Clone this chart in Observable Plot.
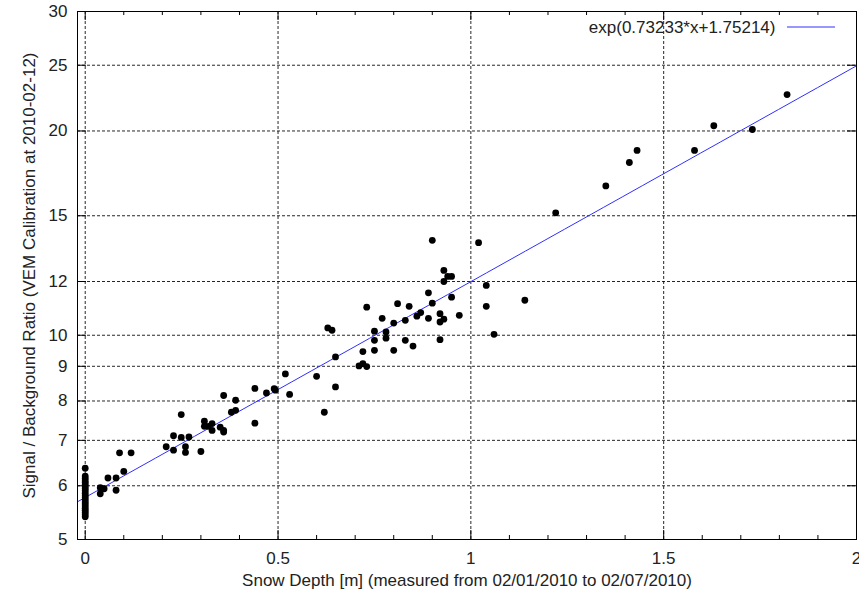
<!DOCTYPE html>
<html>
<head>
<meta charset="utf-8">
<script src="https://cdn.jsdelivr.net/npm/d3@7"></script>
<script src="https://cdn.jsdelivr.net/npm/@observablehq/plot@0.6"></script>
<style>
  html, body { margin: 0; padding: 0; background: #fff; }
  #chart svg { display: block; }
</style>
</head>
<body>
<div id="chart"></div>
<script>
// ---- data ----
const snowDepth = [
  0,0,0,0,0,0,0,0,0,0,0,0,0,0,0,0,0,0,0,0,0,
  0.039,0.039,0.049,0.059,0.080,0.080,0.089,0.100,0.119,
  0.210,0.229,0.229,0.249,0.249,0.260,0.260,0.269,0.300,
  0.309,0.309,0.319,0.329,0.329,0.350,0.359,0.359,0.359,
  0.379,0.390,0.390,0.440,0.440,0.470,0.490,0.493,0.519,0.530,
  0.600,0.620,0.629,0.640,0.649,0.649,
  0.710,0.720,0.730,0.720,0.730,0.750,0.750,0.750,0.770,0.780,0.780,
  0.800,0.800,0.810,0.830,0.830,0.840,0.850,0.860,0.870,
  0.890,0.890,0.900,0.920,0.920,0.920,0.930,0.930,0.950,0.970,
  0.900,0.930,0.940,0.950,1.020,1.040,1.040,1.060,1.140,
  1.220,1.350,1.411,1.431,1.580,1.630,1.730,1.820
];
const ratio = [
  6.37,6.20,6.15,6.10,6.06,6.02,5.98,5.94,5.90,5.85,5.80,5.76,5.72,5.68,5.64,5.60,5.56,5.52,5.48,5.44,5.40,
  5.84,5.96,5.94,6.16,6.16,5.91,6.71,6.30,6.71,
  6.85,6.77,7.11,7.64,7.07,6.85,6.72,7.08,6.74,
  7.47,7.34,7.34,7.41,7.24,7.32,8.15,7.24,7.20,
  7.70,7.75,8.02,8.35,7.42,8.22,8.34,8.30,8.77,8.18,
  8.70,7.70,10.25,10.17,9.29,8.39,
  9.01,9.08,8.99,9.46,11.00,10.14,9.83,9.50,10.59,10.11,9.90,
  10.42,9.50,11.13,10.52,9.83,11.03,9.64,10.67,10.80,
  11.55,10.59,11.15,10.76,10.46,9.85,10.56,12.00,11.38,10.70,
  13.80,12.46,12.21,12.21,13.69,11.84,11.03,10.03,11.26,
  15.15,16.60,17.97,18.72,18.72,20.36,20.10,22.63
];
const fitSlope = 0.73233;
const fitIntercept = 1.75214;
const fitLabel = "exp(0.73233*x+1.75214)";
const xDomain = [-0.02, 2];
const yDomain = [5, 30];
const xMajorTicks = [0, 0.5, 1, 1.5, 2];
const xMinorTicks = [0.1, 0.2, 0.3, 0.4, 0.6, 0.7, 0.8, 0.9, 1.1, 1.2, 1.3, 1.4, 1.6, 1.7, 1.8, 1.9];
const yTicks = [5, 6, 7, 8, 9, 10, 12, 15, 20, 25, 30];
const xTitle = "Snow Depth [m] (measured from 02/01/2010 to 02/07/2010)";
const yTitle = "Signal / Background Ratio (VEM Calibration at 2010-02-12)";

// ---- build ----
const points = snowDepth.map((x, i) => ({x, y: ratio[i]}));
const fitXs = d3.range(0, 41).map(i => xDomain[0] + (xDomain[1] - xDomain[0]) * i / 40);

const W = 859, H = 596;
const mL = 77, mR = 3, mT = 11, mB = 57;
const plotW = W - mL - mR, plotH = H - mT - mB;
const txt = "#222";
const fs = 17;
const font = "'Liberation Sans', Arial, Helvetica, sans-serif";

const legendLine = (index, scales, values, dims) => {
  const g = d3.create("svg:g");
  const xr = dims.width - dims.marginRight;
  g.append("line")
    .attr("x1", xr - 69).attr("x2", xr - 21)
    .attr("y1", dims.marginTop + 16).attr("y2", dims.marginTop + 16)
    .attr("stroke", "#2f2fff").attr("stroke-width", 1);
  return g.node();
};

const chart = Plot.plot({
  width: W, height: H,
  marginLeft: mL, marginRight: mR, marginTop: mT, marginBottom: mB,
  style: {fontFamily: font, fontSize: fs + "px", color: txt, background: "#fff", overflow: "visible"},
  x: {domain: xDomain, axis: null},
  y: {type: "log", domain: yDomain, axis: null},
  marks: [
    Plot.gridX(xMajorTicks, {stroke: "#000", strokeOpacity: 0.85, strokeDasharray: "3,2"}),
    Plot.gridY(yTicks, {stroke: "#000", strokeOpacity: 0.85, strokeDasharray: "3,2"}),
    // ticks (inward, mirrored)
    Plot.tickX(xMajorTicks, {x: d => d, insetTop: plotH - 9, stroke: "#000"}),
    Plot.tickX(xMajorTicks, {x: d => d, insetBottom: plotH - 9, stroke: "#000"}),
    Plot.tickX(xMinorTicks, {x: d => d, insetTop: plotH - 4, stroke: "#000"}),
    Plot.tickX(xMinorTicks, {x: d => d, insetBottom: plotH - 4, stroke: "#000"}),
    Plot.tickY(yTicks, {y: d => d, insetRight: plotW - 9, stroke: "#000"}),
    Plot.tickY(yTicks, {y: d => d, insetLeft: plotW - 9, stroke: "#000"}),
    // fit line
    Plot.line(fitXs, {x: d => d, y: d => Math.exp(fitSlope * d + fitIntercept), stroke: "#2f2fff", strokeWidth: 1}),
    // data
    Plot.dot(points, {x: "x", y: "y", r: 3.4, fill: "#000", stroke: "none"}),
    Plot.frame({stroke: "#000", strokeWidth: 1}),
    // tick labels
    Plot.text(xMajorTicks, {x: d => d, text: d => String(d), frameAnchor: "bottom", dy: 19, textAnchor: "middle", lineAnchor: "middle", fill: txt, fontSize: fs}),
    Plot.text(yTicks, {y: d => d, text: d => String(d), frameAnchor: "left", dx: -10, textAnchor: "end", lineAnchor: "middle", fill: txt, fontSize: fs}),
    // axis titles
    Plot.text([xTitle], {text: d => d, frameAnchor: "bottom", dy: 41, textAnchor: "middle", lineAnchor: "middle", fill: txt, fontSize: fs}),
    Plot.text([yTitle], {text: d => d, frameAnchor: "left", dx: -48, rotate: -90, textAnchor: "middle", lineAnchor: "middle", fill: txt, fontSize: fs}),
    // legend
    Plot.text([fitLabel], {text: d => d, frameAnchor: "top-right", dx: -81, dy: 16, textAnchor: "end", lineAnchor: "middle", fill: txt, fontSize: fs}),
    legendLine
  ]
});
document.getElementById("chart").appendChild(chart);
</script>
</body>
</html>
